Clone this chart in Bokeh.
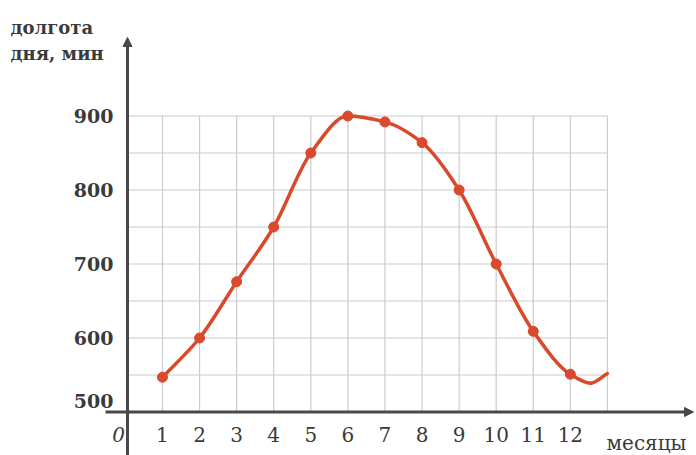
from bokeh.plotting import figure
from bokeh.models import Arrow, NormalHead
from bokeh.core.properties import value
from bokeh.embed import file_html
from bokeh.resources import INLINE

# ---- data ----
months = [1, 2, 3, 4, 5, 6, 7, 8, 9, 10, 11, 12]
day_minutes = [547, 600, 676, 750, 850, 900, 892, 864, 800, 700, 609, 551]
# the drawn curve continues past December
tail_months = [12.55, 13.0]
tail_minutes = [539, 552]

y_ticks = [500, 600, 700, 800, 900]
y_tick_labels = ["500", "600", "700", "800", "900"]
x_tick_labels = ["1", "2", "3", "4", "5", "6", "7", "8", "9", "10", "11", "12"]
grid_y = [550, 600, 650, 700, 750, 800, 850, 900]
grid_x = [1, 2, 3, 4, 5, 6, 7, 8, 9, 10, 11, 12, 13]
y_title = ["долгота", "дня, мин"]
x_title = "месяцы"
origin_label = "0"

# ---- layout (pixel geometry of the picture) ----
W, H = 696, 455
X0_PX, XS = 124.9, 37.08      # px of month 0, px per month
Y500_PX, YS = 411.5, 0.74     # px of 500 min, px per minute


def dx(px):
    return (px - X0_PX) / XS


def dy(py):
    return 500 + (Y500_PX - py) / YS


p = figure(width=W, height=H, output_backend="svg", toolbar_location=None,
           x_axis_type=None, y_axis_type=None,
           x_range=(dx(0), dx(W)), y_range=(dy(H), dy(0)),
           min_border=0, outline_line_color=None)
p.background_fill_color = "#ffffff"
p.border_fill_color = "#ffffff"

GRID = "#cbcbd0"
AX = "#4a4748"
TXT = "#3a3a3a"
RED = "#d9492c"
SERIF = "DejaVu Serif"

# grid
p.segment(x0=[0] * len(grid_y), y0=grid_y, x1=[grid_x[-1]] * len(grid_y), y1=grid_y,
          line_color=GRID, line_width=1.2)
p.segment(x0=grid_x, y0=[y_ticks[0]] * len(grid_x), x1=grid_x, y1=[y_ticks[-1]] * len(grid_x),
          line_color=GRID, line_width=1.2)

# axes with arrows
p.add_layout(Arrow(end=NormalHead(size=9, fill_color=AX, line_color=AX, line_width=1),
                   x_start=dx(105), y_start=y_ticks[0], x_end=dx(693), y_end=y_ticks[0],
                   line_color=AX, line_width=3))
p.add_layout(Arrow(end=NormalHead(size=9, fill_color=AX, line_color=AX, line_width=1),
                   x_start=dx(127), y_start=dy(H + 5), x_end=dx(127), y_end=dy(37),
                   line_color=AX, line_width=3))

# smooth curve: monotone cubic (Fritsch-Carlson) through the read points,
# drawn as cubic Bezier segments
cx = months + tail_months
cy = day_minutes + tail_minutes
n = len(cx)
h = [cx[i + 1] - cx[i] for i in range(n - 1)]
d = [(cy[i + 1] - cy[i]) / h[i] for i in range(n - 1)]
m = [d[0]] + [0.0] * (n - 2) + [d[-1]]
for i in range(1, n - 1):
    if d[i - 1] * d[i] <= 0:
        m[i] = 0.0
    else:
        w1 = 2 * h[i] + h[i - 1]
        w2 = h[i] + 2 * h[i - 1]
        m[i] = (w1 + w2) / (w1 / d[i - 1] + w2 / d[i])
bx0, by0, bx1, by1, c0x, c0y, c1x, c1y = [], [], [], [], [], [], [], []
for i in range(n - 1):
    bx0.append(cx[i]); by0.append(cy[i])
    bx1.append(cx[i + 1]); by1.append(cy[i + 1])
    c0x.append(cx[i] + h[i] / 3)
    c0y.append(cy[i] + m[i] * h[i] / 3)
    c1x.append(cx[i + 1] - h[i] / 3)
    c1y.append(cy[i + 1] - m[i + 1] * h[i] / 3)
p.bezier(x0=bx0, y0=by0, x1=bx1, y1=by1, cx0=c0x, cy0=c0y, cx1=c1x, cy1=c1y,
         line_color=RED, line_width=3.5, line_cap="round")
p.scatter(months, day_minutes, size=10, marker="circle",
          fill_color=RED, line_color=RED)

# y tick labels
lab_y = [v if v != y_ticks[0] else dy(400) for v in y_ticks]
p.text(x=[dx(113)] * len(y_ticks), y=lab_y, text=y_tick_labels,
       text_font=value(SERIF), text_font_style="bold", text_font_size="19px",
       text_color=TXT, text_align="right", text_baseline="middle")

# x tick labels
p.text(x=months, y=[dy(434)] * len(months), text=x_tick_labels,
       text_font=value(SERIF), text_font_size="20px",
       text_color=TXT, text_align="center", text_baseline="middle")
p.text(x=[dx(118)], y=[dy(434)], text=[origin_label],
       text_font=value(SERIF), text_font_style="italic", text_font_size="20px",
       text_color=TXT, text_align="center", text_baseline="middle")
p.text(x=[dx(606)], y=[dy(442)], text=[x_title],
       text_font=value(SERIF), text_font_size="20px",
       text_color=TXT, text_align="left", text_baseline="alphabetic")

# y axis title
p.text(x=[dx(10), dx(10)], y=[dy(27), dy(53)], text=y_title,
       text_font=value(SERIF), text_font_style="bold", text_font_size="18px",
       text_color=TXT, text_align="left", text_baseline="alphabetic")

open("out.html", "w").write(file_html(p, INLINE))
